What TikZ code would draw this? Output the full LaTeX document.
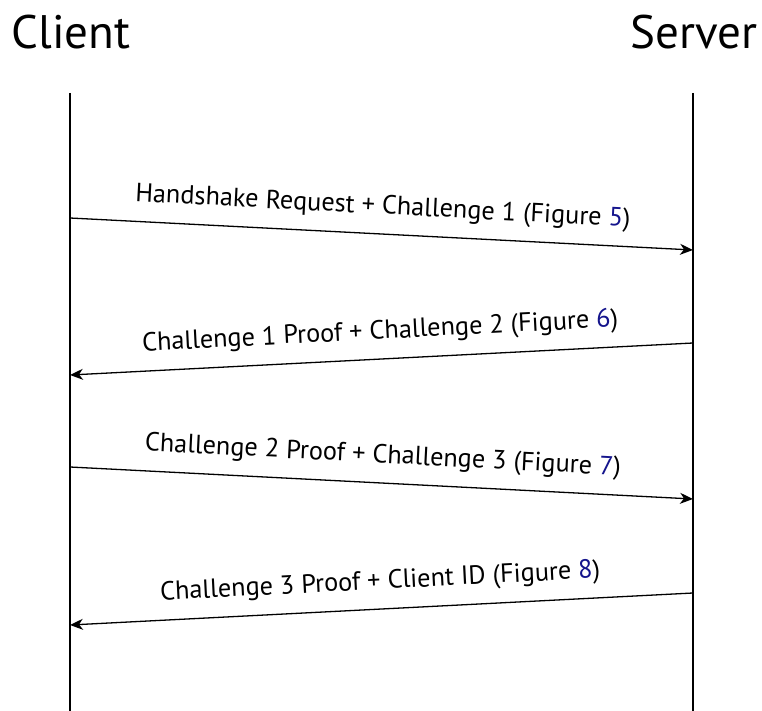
\documentclass[tikz,border=0pt]{standalone}
\usepackage{fontspec}
\setmainfont{PT Sans}
\usetikzlibrary{arrows.meta}
\definecolor{linkblue}{RGB}{20,20,140}
\tikzset{
  actor/.style={font=\fontsize{47}{50}\selectfont, anchor=base, inner sep=0pt},
  lifeline/.style={line width=1.3pt},
  msg/.style={line width=1.3pt, -{Stealth[length=13pt,width=11pt,inset=4pt]}},
  msgback/.style={line width=1.3pt, {Stealth[length=13pt,width=11pt,inset=4pt]}-},
  msglabel/.style={font=\fontsize{26.3}{30}\selectfont, sloped, anchor=base, inner sep=0pt, yshift=20pt},
  ref/.style={text=linkblue}
}
\begin{document}
\begin{tikzpicture}[x=1pt,y=-1pt]
\useasboundingbox (0,0) rectangle (762,711);
\node[actor] (client) at (71,49) {Client};
\node[actor] (server) at (694,49) {Server};
\coordinate (ctop) at (70,93);
\coordinate (cbot) at (70,711);
\coordinate (stop) at (693,93);
\coordinate (sbot) at (693,711);
\draw[lifeline] (ctop) -- (cbot);
\draw[lifeline] (stop) -- (sbot);
\coordinate (c1) at (70,218);
\coordinate (s1) at (693,250);
\coordinate (s2) at (693,343);
\coordinate (c2) at (70,375);
\coordinate (c3) at (70,467);
\coordinate (s3) at (693,499);
\coordinate (s4) at (693,593);
\coordinate (c4) at (70,625);
\draw[msg] (c1) -- node[msglabel] (l1) {Handshake Request + Challenge 1 (Figure {\color{linkblue}5})} (s1);
\draw[msgback] (c2) -- node[msglabel] (l2) {Challenge 1 Proof + Challenge 2 (Figure {\color{linkblue}6})} (s2);
\draw[msg] (c3) -- node[msglabel] (l3) {Challenge 2 Proof + Challenge 3 (Figure {\color{linkblue}7})} (s3);
\draw[msgback] (c4) -- node[msglabel] (l4) {Challenge 3 Proof + Client ID (Figure {\color{linkblue}8})} (s4);
\end{tikzpicture}
\end{document}
